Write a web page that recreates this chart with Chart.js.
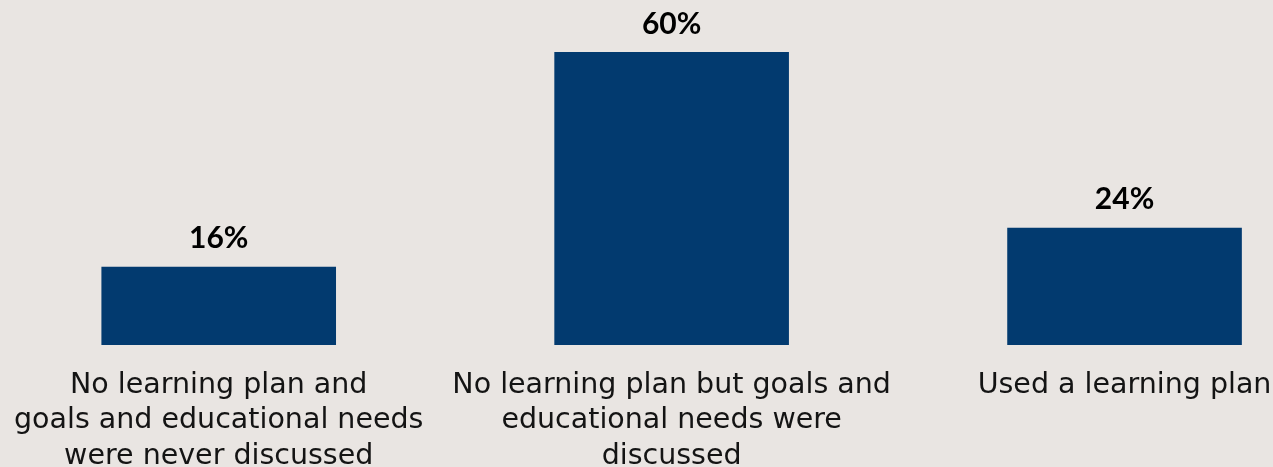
<!DOCTYPE html>
<html>
<head>
<meta charset="utf-8">
<script src="https://cdn.jsdelivr.net/npm/chart.js@4"></script>
<style>
  html, body { margin: 0; padding: 0; background: #E9E5E2; overflow: hidden; }
  #wrap { position: relative; width: 1273px; height: 467px; overflow: hidden; }
  #chart { position: absolute; left: -9px; top: 0; }
</style>
</head>
<body>
<div id="wrap"><canvas id="chart" width="1360" height="497"></canvas></div>
<script>
// Survey answers: how learning plans were used
const categories = [
  ["No learning plan and", "goals and educational needs", "were never discussed"],
  ["No learning plan but goals and", "educational needs were", "discussed"],
  ["Used a learning plan"]
];
const shares = [16, 60, 24];

const BAR_COLOR = "#023A6F";
const TEXT_COLOR = "#141414";

// Writes the percentage above each bar
const valueLabels = {
  id: "valueLabels",
  afterDatasetsDraw(chart) {
    const ctx = chart.ctx;
    const meta = chart.getDatasetMeta(0);
    ctx.save();
    ctx.font = "bold 30px Lato";
    ctx.fillStyle = "#000000";
    ctx.textAlign = "center";
    ctx.textBaseline = "alphabetic";
    meta.data.forEach((bar, i) => {
      ctx.fillText(shares[i] + "%", bar.x, bar.y - 18.5);
    });
    ctx.restore();
  }
};

new Chart(document.getElementById("chart"), {
  type: "bar",
  data: {
    labels: categories,
    datasets: [{
      data: shares,
      backgroundColor: BAR_COLOR,
      borderWidth: 0,
      categoryPercentage: 1,
      barPercentage: 0.518
    }]
  },
  options: {
    responsive: false,
    animation: false,
    layout: { padding: { top: 52, left: 0, right: 0, bottom: 0 } },
    plugins: { legend: { display: false }, tooltip: { enabled: false } },
    scales: {
      x: {
        grid: { display: false, drawTicks: false },
        border: { display: false },
        ticks: {
          color: TEXT_COLOR,
          padding: 23,
          maxRotation: 0,
          autoSkip: false,
          font: { family: "DejaVu Sans", size: 28.5, lineHeight: 1.24 }
        }
      },
      y: {
        display: false,
        min: 0,
        max: 60
      }
    }
  },
  plugins: [valueLabels]
});
</script>
</body>
</html>
